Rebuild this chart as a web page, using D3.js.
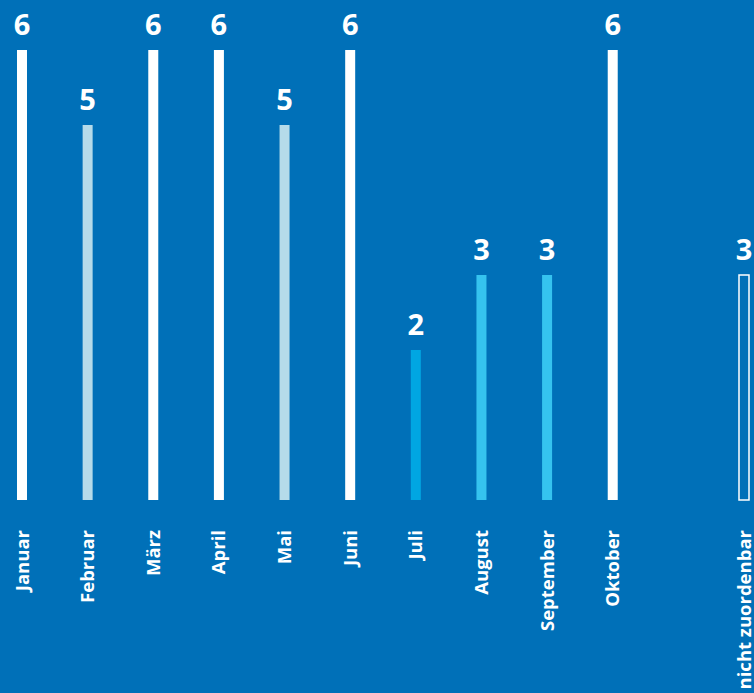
<!DOCTYPE html>
<html>
<head>
<meta charset="utf-8">
<script src="https://cdn.jsdelivr.net/npm/d3@7"></script>
<style>
  html, body { margin: 0; padding: 0; background: #0070b8; }
  svg { display: block; }
</style>
</head>
<body>
<svg id="chart"></svg>
<script>
// data
let months = ["Januar", "Februar", "März", "April", "Mai", "Juni", "Juli", "August", "September", "Oktober", "", "nicht zuordenbar"];
let values = [6, 5, 6, 6, 5, 6, 2, 3, 3, 6, null, 3];
let colors = ["#ffffff", "#b5dbea", "#ffffff", "#ffffff", "#b5dbea", "#ffffff", "#00a6e2", "#35c3ef", "#35c3ef", "#ffffff", null, "none"];

let width = 754, height = 693;
let margin = { left: 22, right: 10, top: 50, baseline: 500 };

let svg = d3.select("#chart").attr("width", width).attr("height", height);

let x = d3.scalePoint()
  .domain(d3.range(months.length))
  .range([margin.left, width - margin.right]);

let y = d3.scaleLinear().domain([0, 6]).range([margin.baseline, margin.top]);

let barW = 10;
let data = months.map((m, i) => ({ i: i, name: m, v: values[i], c: colors[i] }))
  .filter((d) => d.v !== null);

// bars
svg.append("g")
  .selectAll("rect")
  .data(data)
  .join("rect")
  .attr("x", (d) => x(d.i) - barW / 2)
  .attr("y", (d) => y(d.v))
  .attr("width", barW)
  .attr("height", (d) => y(0) - y(d.v))
  .attr("fill", (d) => d.c === "none" ? "none" : d.c)
  .attr("stroke", (d) => d.c === "none" ? "#ffffff" : null)
  .attr("stroke-width", 1.5);

// value labels
svg.append("g")
  .selectAll("text")
  .data(data)
  .join("text")
  .attr("x", (d) => x(d.i))
  .attr("y", (d) => y(d.v) - 15)
  .attr("text-anchor", "middle")
  .attr("font-family", "'Open Sans', sans-serif")
  .attr("font-weight", "bold")
  .attr("font-size", "29px")
  .attr("fill", "#ffffff")
  .text((d) => d.v);

// month labels (rotated)
svg.append("g")
  .selectAll("text")
  .data(data)
  .join("text")
  .attr("transform", (d) => "translate(" + (x(d.i) + 6.5) + ",530) rotate(-90)")
  .attr("text-anchor", "end")
  .attr("font-family", "'Open Sans', sans-serif")
  .attr("font-weight", "bold")
  .attr("font-size", "18.5px")
  .attr("fill", "#ffffff")
  .text((d) => d.name);
</script>
</body>
</html>
